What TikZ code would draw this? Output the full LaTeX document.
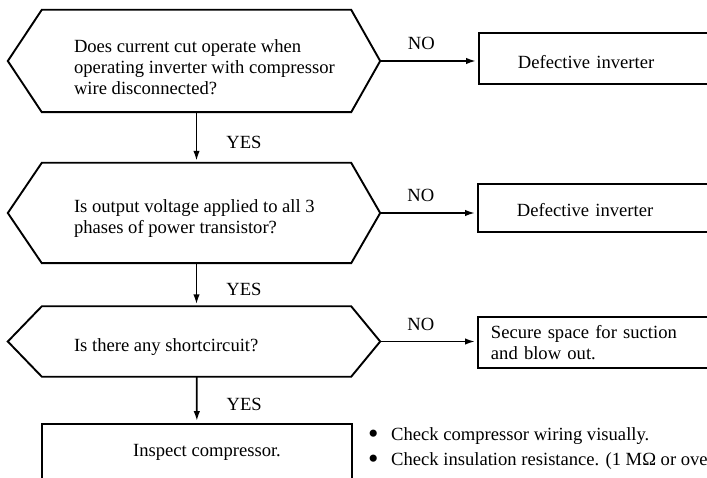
\documentclass[tikz,border=0pt]{standalone}
\usepackage{fontspec}
\setmainfont{Liberation Serif}
\usetikzlibrary{positioning,arrows.meta}

\begin{document}
\begin{tikzpicture}[x=1pt, y=1pt,
    every node/.style={font=\fontsize{18.6}{21}\selectfont, inner sep=0pt},
    corpo/.style={minimum width=309pt, inner sep=0pt},
    domanda/.style={align=left, yshift=-6pt},
    esito/.style={draw, line width=1.9pt, align=left, anchor=west, text width=220pt, inner xsep=#1},
    freccia/.style={line width=1.8pt, -{Latex[length=10pt,width=6.5pt]}, shorten >=2pt},
    bordo/.style={line width=1.9pt}
  ]
  \useasboundingbox (0,0) rectangle (707,-478);
  \clip (0,0) rectangle (707,-478);

  % Domande (esagoni)
  \node[corpo, minimum height=102pt] (q1) at (196.5,-61) {};
  \node[corpo, minimum height=100pt] (q2) at (196.5,-213) {};
  \node[corpo, minimum height=70pt] (q3) at (196.5,-341.5) {};
  \foreach \q in {q1,q2,q3} {
    \coordinate (\q-sx) at ([xshift=-34pt]\q.west);
    \coordinate (\q-dx) at ([xshift=29pt]\q.east);
    \draw[bordo] (\q.north west) -- (\q.north east) -- (\q-dx) -- (\q.south east)
      -- (\q.south west) -- (\q-sx) -- cycle;
  }
  \node[domanda, right=32pt of q1.west] (t1) {Does current cut operate when\\operating inverter with compressor\\wire disconnected?};
  \node[domanda, right=32pt of q2.west] (t2) {Is output voltage applied to all 3\\phases of power transistor?};
  \node[domanda, right=32pt of q3.west] (t3) {Is there any shortcircuit?};

  % Esiti
  \node[esito=39pt, minimum height=51pt, text height=20.5pt] (d1) at (478,-58.5) {Defective inverter};
  \node[esito=39pt, minimum height=48pt, text height=16.5pt] (d2) at (477,-208) {Defective inverter};
  \node[esito=13pt, minimum height=51pt] (d3) at (477,-342.5) {Secure space for suction\\and blow out.};
  \node[draw, line width=1.9pt, minimum width=310pt, minimum height=56pt] (i4) at (197,-452) {\hspace*{20pt}Inspect compressor.};

  % Frecce
  \draw[freccia] (q1) -- node[pos=0.6, right=29pt] (y1) {YES} (q2);
  \draw[freccia] (q2) -- node[pos=0.6, right=29pt] (y2) {YES} (q3);
  \draw[freccia] (q3) -- node[pos=0.6, right=29pt] (y3) {YES} (i4);
  \draw[freccia] (q1-dx) -- node[pos=0.42, above=10pt] (n1) {NO} (q1-dx -| d1.west);
  \draw[freccia] (q2-dx) -- node[pos=0.42, above=10pt] (n2) {NO} (q2-dx -| d2.west);
  \draw[freccia] (q3-dx) -- node[pos=0.42, above=10pt] (n3) {NO} (q3-dx -| d3.west);

  % Note
  \node[anchor=west, align=left] (nota) at (368,-449) {\makebox[23pt][l]{\smash{\raisebox{-3pt}{\scalebox{1.6}{\textbullet}}}}Check compressor wiring visually.\\[4pt]\makebox[23pt][l]{\smash{\raisebox{-3pt}{\scalebox{1.6}{\textbullet}}}}Check insulation resistance. (1 MΩ or ove};
\end{tikzpicture}
\end{document}
